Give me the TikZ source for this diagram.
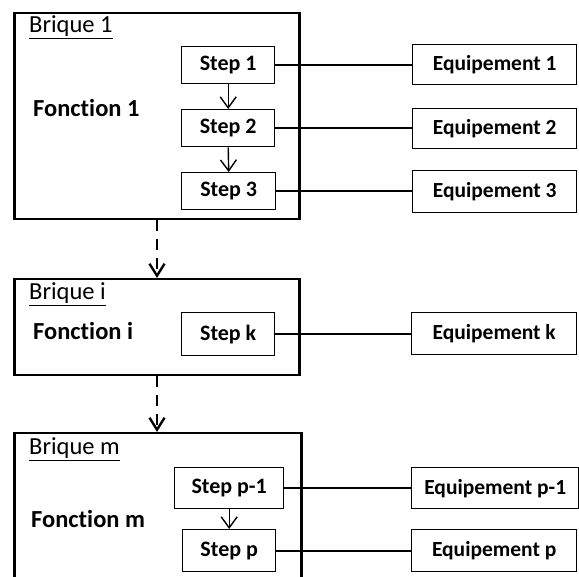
\documentclass[tikz,border=0pt]{standalone}
\usepackage{fontspec}
\setmainfont[Ligatures=NoCommon]{Carlito}
\usetikzlibrary{arrows.meta}
\tikzset{
  outerbox/.style={draw, line width=2.5pt, rectangle, inner sep=0pt, anchor=north west},
  stepbox/.style={draw, line width=1.4pt, rectangle, inner sep=0pt, anchor=north west,
    font=\bfseries\fontsize{22}{24}\selectfont},
  eqbox/.style={draw, line width=1.4pt, rectangle, inner sep=0pt, anchor=north west,
    font=\bfseries\fontsize{21.5}{24}\selectfont},
  briquelbl/.style={anchor=base west, inner sep=0pt, font=\fontsize{24.5}{26}\selectfont},
  fonclbl/.style={anchor=base west, inner sep=0pt, font=\bfseries\fontsize{24.5}{26}\selectfont},
  link/.style={line width=1.8pt},
  steparrow/.style={line width=1.4pt, -{Straight Barb[length=11pt,width=16pt,line width=1.4pt]}},
  dasharrow/.style={line width=2.6pt, dash pattern=on 11pt off 8pt,
    -{Straight Barb[length=12pt,width=15pt,line width=2.4pt]}},
}
\begin{document}
\begin{tikzpicture}[x=1pt,y=-1pt]
\useasboundingbox (0,0) rectangle (579,577);
% outer bricks
\node[outerbox, minimum width=285pt, minimum height=206pt] (B1) at (13,12) {};
\node[outerbox, minimum width=285pt, minimum height=96pt] (Bi) at (13,278) {};
\node[outerbox, minimum width=287pt, minimum height=200pt] (Bm) at (13,432) {};
% labels
\node[briquelbl] (lb1) at (29,33) {\underline{Brique 1}};
\node[briquelbl] (lbi) at (29,300) {\underline{Brique i}};
\node[briquelbl] (lbm) at (29,455) {\underline{Brique m}};
\node[fonclbl] (f1) at (33,117) {Fonction 1};
\node[fonclbl] (fi) at (33,340) {Fonction i};
\node[fonclbl] (fm) at (31,527) {Fonction m};
% steps
\node[stepbox, minimum width=93pt, minimum height=37pt] (s1) at (181,46) {Step 1};
\node[stepbox, minimum width=93pt, minimum height=37pt] (s2) at (181,109) {Step 2};
\node[stepbox, minimum width=94pt, minimum height=37pt] (s3) at (181,172) {Step 3};
\node[stepbox, minimum width=93pt, minimum height=43pt] (sk) at (181,312) {Step k};
\node[stepbox, minimum width=109pt, minimum height=41pt] (sp1) at (174,467) {Step p-1};
\node[stepbox, minimum width=93pt, minimum height=42pt] (sp) at (182,529) {Step p};
% equipements
\node[eqbox, minimum width=164pt, minimum height=40pt] (e1) at (412,44) {Equipement 1};
\node[eqbox, minimum width=164pt, minimum height=40pt] (e2) at (412,108) {Equipement 2};
\node[eqbox, minimum width=164pt, minimum height=42pt] (e3) at (412,170) {Equipement 3};
\node[eqbox, minimum width=165pt, minimum height=42pt] (ek) at (411,312) {Equipement k};
\node[eqbox, minimum width=167pt, minimum height=41pt] (ep1) at (411,467) {Equipement p-1};
\node[eqbox, minimum width=165pt, minimum height=42pt] (ep) at (411,529) {Equipement p};
% links
\draw[link] (s1.east) -- (s1.east -| e1.west);
\draw[link] (s2.east) -- (s2.east -| e2.west);
\draw[link] (s3.east) -- (s3.east -| e3.west);
\draw[link] (sk.east) -- (sk.east -| ek.west);
\draw[link] (sp1.east) -- (sp1.east -| ep1.west);
\draw[link] (sp.east) -- (sp.east -| ep.west);
% step arrows
\draw[steparrow] (s1.south) -- (s2.north);
\draw[steparrow] (s2.south) -- (s3.north);
\draw[steparrow] (sp1.south -| sp.north) -- (sp.north);
% dashed arrows between bricks
\coordinate (cx) at (157,0);
\draw[dasharrow] (B1.south -| cx) -- (Bi.north -| cx);
\draw[dasharrow] (Bi.south -| cx) -- (Bm.north -| cx);
\end{tikzpicture}
\end{document}
